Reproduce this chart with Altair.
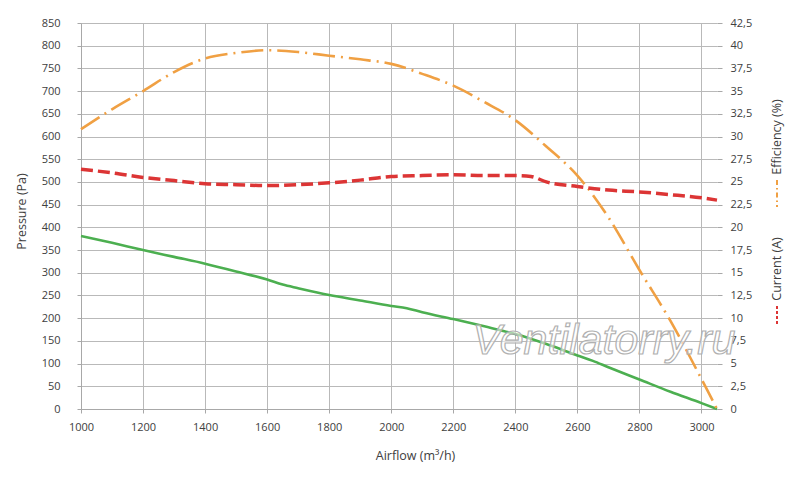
import altair as alt
import pandas as pd

# ---- data ----
airflow_p = [1000, 1100, 1200, 1300, 1400, 1500, 1600, 1650, 1700, 1800, 1900, 2000, 2050,
             2100, 2200, 2300, 2400, 2500, 2600, 2650, 2700, 2800, 2900, 3000, 3050]
pressure = [381, 366, 350, 335, 320, 303, 285, 274, 266, 251, 239, 227, 222,
            213, 198, 182, 165, 143, 118, 106, 92, 65, 38, 13, 0]

airflow_e = [1000, 1100, 1200, 1300, 1400, 1500, 1600, 1700, 1800, 1900, 2000,
             2100, 2200, 2300, 2400, 2500, 2600, 2700, 2800, 2900, 3000, 3050]
efficiency = [30.8, 33.0, 35.0, 37.1, 38.6, 39.2, 39.5, 39.3, 38.9, 38.5, 38.0,
              36.9, 35.6, 33.8, 31.8, 28.9, 25.7, 21.1, 15.3, 9.7, 3.3, 0.0]

airflow_c = [1000, 1100, 1200, 1300, 1400, 1500, 1600, 1700, 1800, 1900, 2000,
             2100, 2200, 2300, 2400, 2450, 2500, 2600, 2700, 2800, 2900, 3000, 3050]
current = [26.4, 26.0, 25.5, 25.15, 24.8, 24.7, 24.6, 24.7, 24.9, 25.2, 25.6,
           25.7, 25.8, 25.7, 25.7, 25.6, 25.0, 24.5, 24.1, 23.9, 23.6, 23.25, 23.0]

x_ticks = list(range(1000, 3001, 200))
left_ticks = list(range(0, 851, 50))
right_ticks = [i * 2.5 for i in range(18)]

x_title = "Airflow (m³/h)"
left_title = "Pressure (Pa)"
eff_label = "Efficiency (%)"
cur_label = "Current (A)"
watermark = "Ventilatorry.ru"

GREEN = "#4caf50"
RED = "#dc3535"
ORANGE = "#f0a043"
FONT = "Open Sans"
TXT = "#404040"

W, H = 636, 386

df_p = pd.DataFrame({"airflow": airflow_p, "pressure": pressure})
df_e = pd.DataFrame({"airflow": airflow_e, "efficiency": efficiency})
df_c = pd.DataFrame({"airflow": airflow_c, "current": current})
one = pd.DataFrame({"k": [0]})

x_scale = alt.Scale(domain=[1000, 3050], nice=False, zero=False)

x_axis = alt.Axis(values=x_ticks, format="d", title=x_title, grid=True, labelFlush=False,
                  tickSize=4, labelPadding=8, titleX=334, titleY=46,
                  titleBaseline="middle", titleAlign="center")

left_axis = alt.Axis(orient="left", values=left_ticks, title=left_title, grid=True,
                     tickSize=4, labelPadding=17, titleAngle=270, titleX=-60,
                     titleY=188, titleBaseline="middle", titleAlign="center")

right_label_expr = ("datum.value % 1 ? replace(format(datum.value, '.1f'), '.', ',') "
                    ": format(datum.value, 'd')")
right_axis = alt.Axis(orient="right", values=right_ticks, title=None, grid=False,
                      domain=False, tickSize=5, labelPadding=8, labelExpr=right_label_expr)

right_scale = alt.Scale(domain=[0, 42.5], nice=False, zero=True)

press = alt.Chart(df_p).mark_line(color=GREEN, strokeWidth=2.6, interpolate="monotone").encode(
    x=alt.X("airflow:Q", scale=x_scale, axis=x_axis),
    y=alt.Y("pressure:Q", scale=alt.Scale(domain=[0, 850], nice=False), axis=left_axis),
)

eff = alt.Chart(df_e).mark_line(color=ORANGE, strokeWidth=2.6, interpolate="monotone",
                                strokeDash=[22, 6, 2, 6]).encode(
    x=alt.X("airflow:Q", scale=x_scale),
    y=alt.Y("efficiency:Q", scale=right_scale, axis=right_axis),
)

cur = alt.Chart(df_c).mark_line(color=RED, strokeWidth=3.5, interpolate="monotone",
                                strokeDash=[12, 5]).encode(
    x=alt.X("airflow:Q", scale=x_scale),
    y=alt.Y("current:Q", scale=right_scale, axis=right_axis),
)

right = alt.layer(eff, cur)
main = alt.layer(press, right).resolve_scale(y="independent")

# right-hand legend titles
eff_txt = alt.Chart(one).mark_text(angle=270, font=FONT, fontSize=12.5, color=TXT,
                                   align="center", baseline="middle").encode(
    x=alt.value(696), y=alt.value(114), text=alt.value(eff_label))
cur_txt = alt.Chart(one).mark_text(angle=270, font=FONT, fontSize=12.5, color=TXT,
                                   align="center", baseline="middle").encode(
    x=alt.value(696), y=alt.value(246), text=alt.value(cur_label))
eff_sym = alt.Chart(one).mark_rule(color=ORANGE, strokeWidth=2, strokeDash=[5, 3, 1.5, 3]).encode(
    x=alt.value(696), y=alt.value(157), y2=alt.value(184))
cur_sym = alt.Chart(one).mark_rule(color=RED, strokeWidth=2, strokeDash=[3, 2]).encode(
    x=alt.value(696), y=alt.value(283), y2=alt.value(302))

wm = alt.Chart(one).mark_text(font="Liberation Sans", fontStyle="italic", fontSize=43,
                              fill="white", fillOpacity=0.55, stroke="#b0b0b0",
                              strokeWidth=1.2, align="center", baseline="middle").encode(
    x=alt.value(523), y=alt.value(318), text=alt.value(watermark))

chart = alt.layer(main, eff_txt, cur_txt, eff_sym, cur_sym, wm).properties(
    width=W, height=H,
    autosize=alt.AutoSizeParams(type="none"),
    padding={"left": 73, "top": 15, "right": 75, "bottom": 60},
).configure_view(strokeWidth=0).configure_axis(
    labelFont=FONT, titleFont=FONT, labelFontSize=11, titleFontSize=12.5,
    labelColor=TXT, titleColor=TXT, titleFontWeight="normal",
    gridColor="#b9b9b9", gridWidth=1, domainColor="#a8a8a8", tickColor="#a8a8a8",
)

chart.save("out.html", embed_options={"renderer": "svg", "actions": False})
